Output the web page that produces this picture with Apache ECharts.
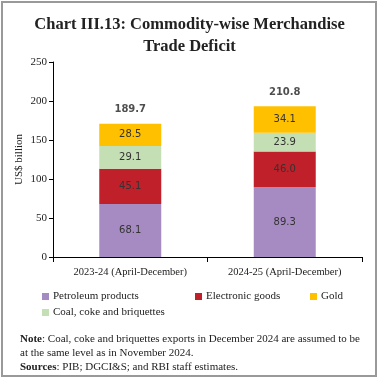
<!DOCTYPE html>
<html><head><meta charset="utf-8">
<script src="https://cdn.jsdelivr.net/npm/echarts@6/dist/echarts.min.js"></script>
<style>html,body{margin:0;padding:0;background:#fff}#c{width:379px;height:380px}</style>
</head><body><div id="c"></div>
<script>
const categories = ['2023-24 (April-December)', '2024-25 (April-December)'];
const petroleum = [68.1, 89.3];
const electronic = [45.1, 46.0];
const coal = [29.1, 23.9];
const gold = [28.5, 34.1];
const totals = [189.7, 210.8];
const yTicks = [0, 50, 100, 150, 200, 250];

const serif = 'Liberation Serif';
const chart = echarts.init(document.getElementById('c'), null, {renderer: 'canvas'});
const segLabel = {show: true, position: 'inside', color: '#333', fontFamily: 'DejaVu Sans', fontSize: 10, formatter: p => p.value.toFixed(1)};
function bar(name, data, color) {
  return {name, type: 'bar', stack: 's', data, barWidth: 62, itemStyle: {color}, label: segLabel, emphasis: {disabled: true}};
}
const legendBase = {icon: 'rect', itemWidth: 7, itemHeight: 7, itemGap: 6, padding: 0, textStyle: {fontFamily: serif, fontSize: 11, color: '#222', padding: [0, 0, 0, -1]}, selectedMode: false};
chart.setOption({
  animation: false,
  title: {text: 'Chart III.13: Commodity-wise Merchandise\nTrade Deficit', left: 'center', top: 9,
    textStyle: {fontFamily: serif, fontWeight: 'bold', fontSize: 16.5, color: '#222', lineHeight: 22}},
  grid: {left: 53, right: 17, top: 62, bottom: 123},
  xAxis: {type: 'category', data: categories,
    axisLine: {lineStyle: {color: '#000'}}, axisTick: {show: true, length: 5, lineStyle: {color: '#000'}},
    axisLabel: {fontFamily: serif, fontSize: 10.5, color: '#222', margin: 10}},
  yAxis: {type: 'value', min: yTicks[0], max: yTicks[yTicks.length - 1], interval: 50,
    name: 'US$ billion', nameLocation: 'middle', nameGap: 28, nameMoveOverlap: false,
    nameTextStyle: {fontFamily: serif, fontSize: 11, color: '#222'},
    axisLine: {show: true, lineStyle: {color: '#000'}}, axisTick: {show: true, length: 4, lineStyle: {color: '#000'}},
    splitLine: {show: false}, axisLabel: {fontFamily: serif, fontSize: 11, color: '#222', margin: 6}},
  legend: [
    Object.assign({data: ['Petroleum products'], left: 42, top: 291}, legendBase),
    Object.assign({data: ['Electronic goods'], left: 195, top: 291}, legendBase),
    Object.assign({data: ['Gold'], left: 310, top: 291}, legendBase),
    Object.assign({data: ['Coal, coke and briquettes'], left: 42, top: 307}, legendBase)
  ],
  series: [
    bar('Petroleum products', petroleum, '#A68BC2'),
    bar('Electronic goods', electronic, '#C0202A'),
    bar('Coal, coke and briquettes', coal, '#C4DFB4'),
    bar('Gold', gold, '#FFC000'),
    {name: 'Total', type: 'scatter', data: totals, symbolSize: 0, silent: true,
      label: {show: true, position: 'inside', fontFamily: 'DejaVu Sans', fontWeight: 'bold', fontSize: 10, color: '#222', formatter: p => p.value.toFixed(1)}}
  ],
  graphic: [
    {type: 'rect', shape: {x: 2, y: 2, width: 374, height: 374}, style: {fill: 'none', stroke: '#999', lineWidth: 2}, silent: true},
    {type: 'text', left: 20, top: 332, style: {
      text: '{b|Note}: Coal, coke and briquettes exports in December 2024 are assumed to be\nat the same level as in November 2024.\n{b|Sources}: PIB; DGCI&S; and RBI staff estimates.',
      fontFamily: serif, fontSize: 11, fill: '#222', lineHeight: 14,
      rich: {b: {fontFamily: serif, fontSize: 11, fontWeight: 'bold', fill: '#222'}}}}
  ]
});
</script></body></html>
